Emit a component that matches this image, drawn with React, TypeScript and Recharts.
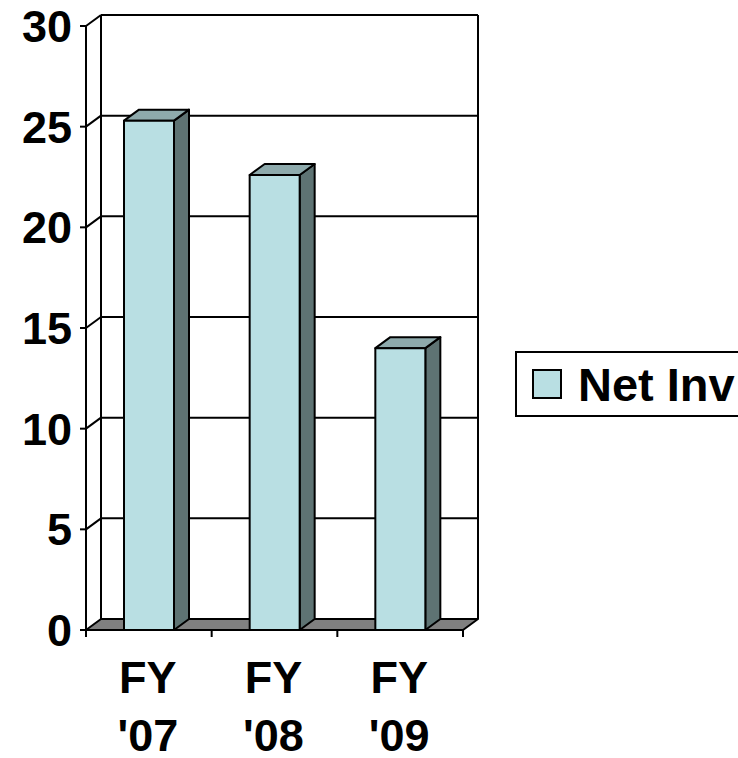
import React from 'react';
import { BarChart, Bar, XAxis, YAxis, CartesianGrid, Legend } from 'recharts';

const categories = ["FY '07", "FY '08", "FY '09"];
const netInv = [25.3, 22.6, 14.0];
const yTicks = [0, 5, 10, 15, 20, 25, 30];

const data = categories.map((name, i) => ({ name, netInv: netInv[i] }));

// 3D depth offset of the walls and the bars
const DX = 15;
const DY = 11;
const FONT = '"Liberation Sans", Arial, sans-serif';

const FRONT = '#B9DFE3';
const TOP = '#8EAAAC';
const SIDE = '#5E7373';

// plot area as handed to the grid generator
const plot = { left: 0, top: 0, width: 0, height: 0 };

const Bar3D = (props: any) => {
  const { x, y, width: w, height: h } = props;
  if (!h) return null;
  return (
    <g stroke="#000" strokeWidth={2} strokeLinejoin="round">
      <polygon
        points={`${x + w},${y} ${x + w + DX},${y - DY} ${x + w + DX},${y + h - DY} ${x + w},${y + h}`}
        fill={SIDE}
      />
      <polygon
        points={`${x},${y} ${x + DX},${y - DY} ${x + w + DX},${y - DY} ${x + w},${y}`}
        fill={TOP}
      />
      <rect x={x} y={y} width={w} height={h} fill={FRONT} />
    </g>
  );
};

const wallLine = (props: any) => {
  const { x1, y1, x2 } = props;
  if (Math.abs(y1 - (plot.top + plot.height)) < 0.5) return <g />;
  return (
    <g stroke="#000" strokeWidth={2}>
      <line x1={x1} y1={y1} x2={x1 + DX} y2={y1 - DY} />
      <line x1={x1 + DX} y1={y1 - DY} x2={x2 + DX} y2={y1 - DY} />
    </g>
  );
};

const wallEdge = (props: any) => {
  const { x1, y1, y2, index } = props;
  const edge = index === 0 || index === categories.length;
  const right = x1 + plot.width;
  return (
    <g stroke="#000" strokeWidth={2}>
      {index === 0 && (
        <polygon
          points={`${x1},${y2} ${right},${y2} ${right + DX},${y2 - DY} ${x1 + DX},${y2 - DY}`}
          fill="#808080"
          strokeLinejoin="round"
        />
      )}
      {edge && <line x1={x1 + DX} y1={y1 - DY} x2={x1 + DX} y2={y2 - DY} />}
      <line x1={x1} y1={y2} x2={x1} y2={y2 + 7} />
    </g>
  );
};

const CategoryTick = ({ x, y, payload }: any) => {
  const [a, b] = String(payload.value).split(' ');
  return (
    <text x={x - 1} y={y} textAnchor="middle" fontSize={45} fontWeight="bold" fontFamily={FONT} fill="#000">
      <tspan x={x - 1} dy={63}>{a}</tspan>
      <tspan x={x - 1} dy={58}>{b}</tspan>
    </text>
  );
};

const LegendBox = ({ payload }: any) => {
  const item = payload && payload[0];
  return (
    <div
      style={{
        boxSizing: 'border-box',
        width: 240,
        height: 66,
        border: '2px solid #000',
        background: '#fff',
        display: 'flex',
        alignItems: 'center',
        paddingLeft: 15,
      }}
    >
      <span
        style={{
          boxSizing: 'border-box',
          width: 30,
          height: 30,
          border: '2px solid #000',
          background: FRONT,
        }}
      />
      <span
        style={{
          marginLeft: 16,
          fontFamily: FONT,
          fontWeight: 'bold',
          fontSize: 47,
          lineHeight: '47px',
          color: '#000',
          whiteSpace: 'nowrap',
        }}
      >
        {item ? item.value : 'Net Inv'}
      </span>
    </div>
  );
};

export default function App() {
  return (
    <div
      style={{
        position: 'absolute',
        left: 0,
        top: 0,
        width: 738,
        height: 758,
        overflow: 'hidden',
        background: '#fff',
      }}
    >
      {/* legend (240 wide) is added to the right offset by recharts */}
      <BarChart width={738} height={758} data={data} margin={{ top: 26, right: 35, bottom: 0, left: 0 }}>
        <CartesianGrid
          horizontal={wallLine}
          vertical={wallEdge}
          verticalCoordinatesGenerator={({ offset }: any) => {
            Object.assign(plot, offset);
            return categories
              .map((_, i) => offset.left + (offset.width * i) / categories.length)
              .concat(offset.left + offset.width);
          }}
        />
        <XAxis
          dataKey="name"
          height={128}
          tickLine={false}
          tickSize={0}
          tickMargin={0}
          axisLine={{ stroke: '#000', strokeWidth: 2 }}
          tick={<CategoryTick />}
          interval={0}
        />
        <YAxis
          width={86}
          domain={[0, 30]}
          ticks={yTicks}
          interval={0}
          tickSize={6}
          tickMargin={8}
          axisLine={{ stroke: '#000', strokeWidth: 2 }}
          tickLine={{ stroke: '#000', strokeWidth: 2 }}
          tick={{ fontSize: 45, fontWeight: 'bold', fill: '#000', fontFamily: FONT }}
        />
        <Legend
          layout="horizontal"
          verticalAlign="middle"
          align="right"
          content={<LegendBox />}
          wrapperStyle={{ left: 515, top: 351, width: 240 }}
        />
        <Bar dataKey="netInv" name="Net Inv" barSize={50} shape={Bar3D} isAnimationActive={false} />
      </BarChart>
    </div>
  );
}
